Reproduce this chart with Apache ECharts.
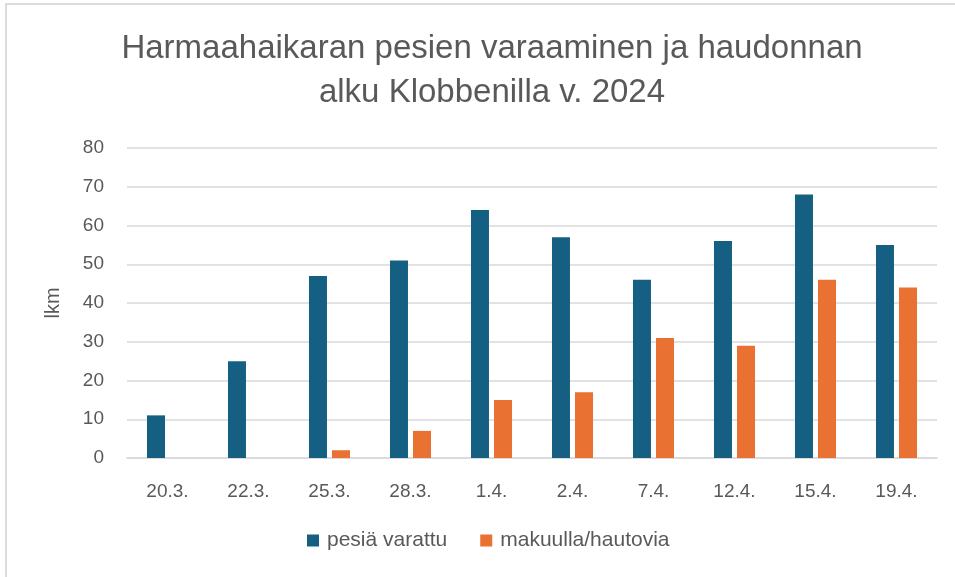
<!DOCTYPE html>
<html>
<head>
<meta charset="utf-8">
<script src="https://cdn.jsdelivr.net/npm/echarts@6/dist/echarts.min.js"></script>
<style>
  html, body { margin: 0; padding: 0; background: #fff; }
  #wrap { position: relative; width: 955px; height: 577px; }
  #chart { position: absolute; left: 0; top: 0; width: 955px; height: 577px; }
  #frame { position: absolute; left: 5px; top: 3px; right: 0; bottom: 0;
           border-top: 2px solid #dcdcdc; border-left: 2px solid #dcdcdc; pointer-events: none; }
</style>
</head>
<body>
<div id="wrap">
  <div id="chart"></div>
  <div id="frame"></div>
</div>
<script>
// päivämäärät
var categories = ['20.3.', '22.3.', '25.3.', '28.3.', '1.4.', '2.4.', '7.4.', '12.4.', '15.4.', '19.4.'];
// pesiä varattu
var pesiaVarattu = [11, 25, 47, 51, 64, 57, 46, 56, 68, 55];
// makuulla/hautovia
var makuulla = [0, 0, 2, 7, 15, 17, 31, 29, 46, 44];
var yTicks = [0, 10, 20, 30, 40, 50, 60, 70, 80];

var textColor = '#595959';
var gridColor = '#d9d9d9';
var font = '"Liberation Sans", Arial, sans-serif';

var myChart = echarts.init(document.getElementById('chart'));

var options = {
    animation: false,
    title: {
        text: 'Harmaahaikaran pesien varaaminen ja haudonnan\nalku Klobbenilla v. 2024',
        left: 487,
        textAlign: 'center',
        top: 22,
        textStyle: {
            color: textColor,
            fontFamily: font,
            fontWeight: 'normal',
            fontSize: 33,
            lineHeight: 44
        }
    },
    legend: {
        bottom: 21,
        left: 302,
        itemWidth: 12,
        itemHeight: 12,
        itemGap: 33,
        icon: 'rect',
        textStyle: {
            color: textColor,
            fontFamily: font,
            fontSize: 21,
            padding: [0, 0, 0, 3]
        },
        data: ['pesiä varattu', 'makuulla/hautovia']
    },
    grid: {
        left: 127,
        right: 18,
        top: 148,
        bottom: 119
    },
    xAxis: {
        type: 'category',
        data: categories,
        axisTick: { show: false },
        axisLine: { lineStyle: { color: gridColor, width: 1.5 } },
        axisLabel: {
            color: textColor,
            fontFamily: font,
            fontSize: 19,
            margin: 24
        }
    },
    yAxis: {
        type: 'value',
        min: yTicks[0],
        max: yTicks[yTicks.length - 1],
        interval: 10,
        name: 'lkm',
        nameLocation: 'middle',
        nameGap: 64,
        nameTextStyle: {
            color: textColor,
            fontFamily: font,
            fontSize: 20
        },
        axisLabel: {
            color: textColor,
            fontFamily: font,
            fontSize: 19,
            margin: 23
        },
        splitLine: { lineStyle: { color: gridColor, width: 1.5 } }
    },
    series: [
        {
            name: 'pesiä varattu',
            type: 'bar',
            barWidth: 18,
            barGap: '28%',
            itemStyle: { color: '#156082' },
            data: pesiaVarattu
        },
        {
            name: 'makuulla/hautovia',
            type: 'bar',
            barWidth: 18,
            barGap: '28%',
            itemStyle: { color: '#e97132' },
            data: makuulla
        }
    ]
};

myChart.setOption(options);
</script>
</body>
</html>
